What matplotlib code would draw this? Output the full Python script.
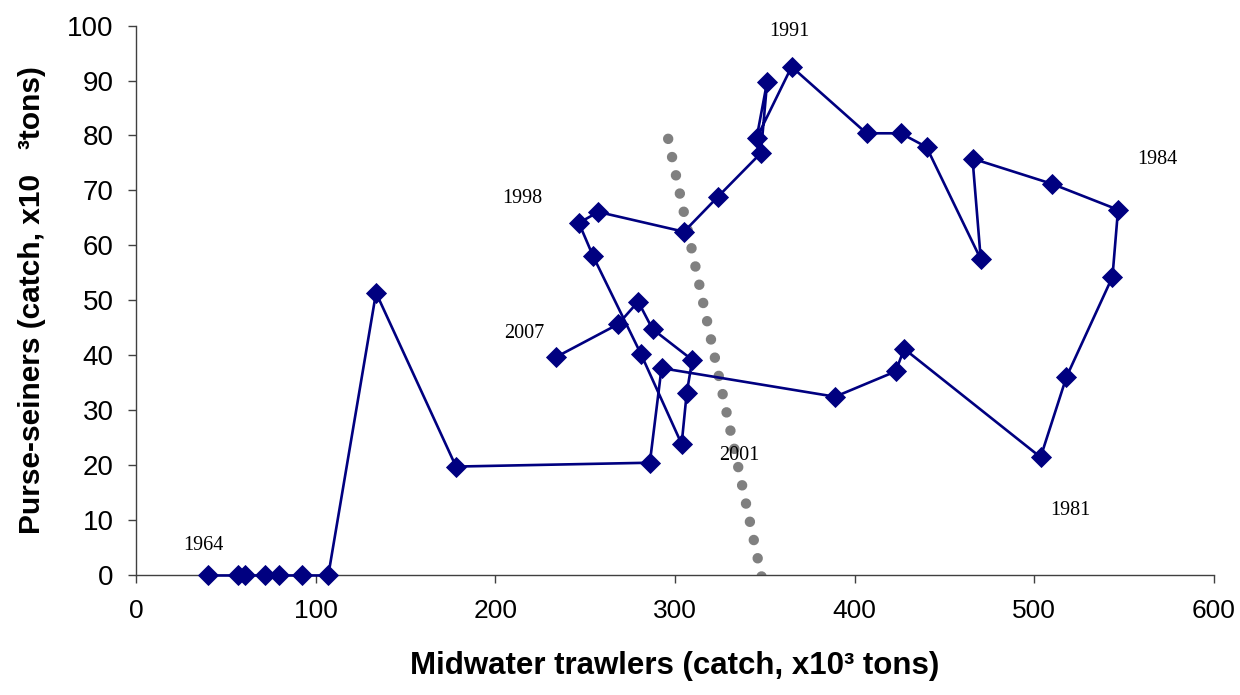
import matplotlib.pyplot as plt

# catch by fleet, one point per year (1964 -> 2007), x10^3 tons
trawlers = [40.2, 56.9, 60.7, 71.8, 79.7, 92.2, 107.0,
            133.6, 178.1, 286.0, 292.5, 389.1, 422.8, 427.6,
            503.5, 517.9, 543.5, 546.6, 509.9, 465.6, 470.2,
            440.0, 425.7, 406.6, 364.9, 345.4, 351.3, 347.8,
            324.0, 305.0, 257.3, 246.5, 254.5, 281.0, 303.7,
            306.5, 309.6, 287.5, 279.5, 268.4, 233.7]
seiners = [0, 0, 0, 0, 0, 0, 0,
           51.4, 19.8, 20.5, 37.7, 32.5, 37.1, 41.2,
           21.5, 36.1, 54.3, 66.5, 71.2, 75.8, 57.5,
           77.9, 80.4, 80.4, 92.5, 79.5, 89.8, 76.8,
           68.9, 62.5, 66.1, 64.1, 58.0, 40.3, 23.9,
           33.1, 39.2, 44.8, 49.8, 45.7, 39.7]

# trend line end points
trend_x = [296.2, 348.2]
trend_y = [79.4, -0.2]

# year annotations
year_labels = ['1964', '1991', '1984', '1981', '1998', '2007', '2001']
year_x = [37.3, 363.9, 568.4, 519.8, 215.1, 216.0, 335.6]
year_y = [5.5, 99.0, 75.7, 11.8, 68.6, 44.0, 21.9]

plt.rcParams['font.family'] = ['Liberation Sans', 'DejaVu Sans']

fig = plt.figure(figsize=(12.4, 6.95), dpi=100)
ax = fig.add_axes([0.1097, 0.172, 0.8693, 0.7913])

ax.plot(trend_x, trend_y, color='#808080', linewidth=7.5,
        linestyle=(0, (0.01, 1.78)), dash_capstyle='round', zorder=1)
ax.plot(trawlers, seiners, color='#000080', linewidth=1.9,
        marker='D', markersize=10.5, markeredgewidth=0.6,
        markerfacecolor='#000080', markeredgecolor='#000080', zorder=3,
        clip_on=False)

for lab, x, y in zip(year_labels, year_x, year_y):
    ax.text(x, y, lab, ha='center', va='center', fontsize=14.5,
            family=['Liberation Serif', 'DejaVu Serif'], color='black')

ax.set_xlim(0, 600)
ax.set_ylim(0, 100)
ax.set_xticks(range(0, 601, 100))
ax.set_yticks(range(0, 101, 10))

for side in ['top', 'right']:
    ax.spines[side].set_visible(False)
for side in ['left', 'bottom']:
    ax.spines[side].set_color('#404040')
    ax.spines[side].set_linewidth(1.0)

ax.tick_params(axis='both', direction='out', length=6, width=1.0,
               color='#404040')
ax.tick_params(axis='y', pad=10, labelsize=20)
ax.tick_params(axis='x', pad=11, labelsize=19)

ax.set_xlabel('Midwater trawlers (catch, x10³ tons)', fontsize=22.5,
              fontweight='bold', labelpad=20)
ax.set_ylabel('Purse-seiners (catch, x10   ³tons)', fontsize=21.5,
              fontweight='bold', labelpad=15)

fig.savefig('out.png', dpi=100)
